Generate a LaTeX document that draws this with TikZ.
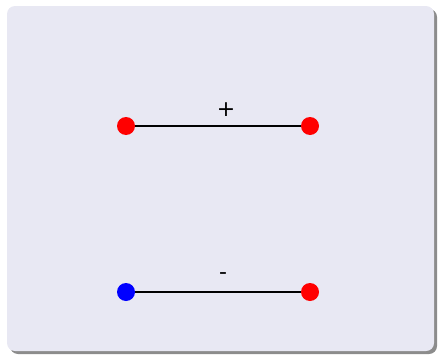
\documentclass[tikz,border=0pt]{standalone}
\usepackage{fontspec}
\setmainfont{DejaVu Sans}
\definecolor{bgfill}{HTML}{E8E8F3}
\definecolor{shadowc}{HTML}{8C8C8C}
\definecolor{dotred}{HTML}{FF0000}
\definecolor{dotblue}{HTML}{0000FF}
\tikzset{
  dotnode/.style={circle, inner sep=0pt, minimum size=18pt},
  reddot/.style={dotnode, fill=dotred},
  bluedot/.style={dotnode, fill=dotblue},
  edgeline/.style={draw=black, line width=1.4pt},
  signlabel/.style={inner sep=0pt, font=\fontsize{22}{22}\selectfont}
}
\begin{document}
\begin{tikzpicture}[x=1pt,y=-1pt]
\useasboundingbox (0,0) rectangle (439,356);
\fill[shadowc, rounded corners=8pt] (10,9) rectangle (437,354);
\fill[bgfill, rounded corners=8pt] (7,6) rectangle (434,351);
\node[reddot] (a) at (126,126) {};
\node[reddot] (b) at (310,126) {};
\node[bluedot] (c) at (126,292) {};
\node[reddot] (d) at (310,292) {};
\draw[edgeline] (a) -- (b);
\draw[edgeline] (c) -- (d);
\node[signlabel] (plus) at (226,110) {+};
\node[signlabel] (minus) at (223,276) {-};
\end{tikzpicture}
\end{document}
